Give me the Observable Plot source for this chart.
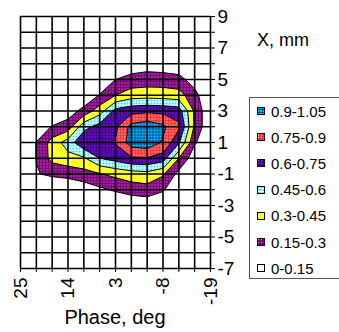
<!DOCTYPE html>
<html><head><meta charset="utf-8">
<script src="https://cdn.jsdelivr.net/npm/d3@7"></script>
<script src="https://cdn.jsdelivr.net/npm/@observablehq/plot@0.6"></script>
<style>
body{margin:0;background:#fff;}
#wrap{position:relative;width:339px;height:332px;overflow:hidden;font-family:'Liberation Sans',Arial,sans-serif;color:#000;}
#xmm{position:absolute;left:257px;top:30px;font-size:18px;white-space:nowrap;}
#xlab{position:absolute;left:0;width:230px;text-align:center;top:306px;font-size:20px;white-space:nowrap;}
#legend{position:absolute;left:249px;top:97px;width:100px;height:182px;border:1px solid #555;box-sizing:border-box;background:#fff;}
.item{position:absolute;left:7px;height:18px;font-size:15px;display:flex;align-items:center;white-space:nowrap;}
.item svg{margin-right:6px;}
</style></head><body>
<svg width="0" height="0" style="position:absolute"><defs>
<pattern id="b1" width="3" height="3" patternUnits="userSpaceOnUse"><rect width="3" height="3" fill="#7e067e"/><rect x="1" y="1" width="1" height="1" fill="#f08ae0"/></pattern>
<pattern id="b2" width="3" height="3" patternUnits="userSpaceOnUse"><rect width="3" height="3" fill="#ffff10"/><rect x="1" y="1" width="1" height="1" fill="#ffffff"/></pattern>
<pattern id="b3" width="3" height="3" patternUnits="userSpaceOnUse"><rect width="3" height="3" fill="#ffffff"/><rect x="0" y="0" width="2" height="2" fill="#30e0f0"/></pattern>
<pattern id="b4" width="3" height="3" patternUnits="userSpaceOnUse"><rect width="3" height="3" fill="#48009a"/><rect x="1" y="1" width="1" height="1" fill="#9050d0"/></pattern>
<pattern id="b5" width="3" height="3" patternUnits="userSpaceOnUse"><rect width="3" height="3" fill="#ff3838"/><rect x="1" y="1" width="1" height="1" fill="#ffffff"/></pattern>
<pattern id="b6" width="3" height="3" patternUnits="userSpaceOnUse"><rect width="3" height="3" fill="#004a9a"/><rect x="0" y="0" width="2" height="2" fill="#00c8ff"/></pattern>
</defs></svg>
<div id="wrap"><div id="xmm">X, mm</div><div id="xlab"></div><div id="legend"></div></div>
<script>
// Categories (phase, deg) and series (X, mm)
const phases = [25, 21.33, 17.67, 14, 10.33, 6.67, 3, -0.67, -4.33, -8, -11.67, -15.33, -19];
const phaseLabels = [25, 14, 3, -8, -19];
const xmm = [9, 8, 7, 6, 5, 4, 3, 2, 1, 0, -1, -2, -3, -4, -5, -6, -7];
const xmmLabels = [9, 7, 5, 3, 1, -1, -3, -5, -7];
const thresholds = [0.15, 0.3, 0.45, 0.6, 0.75, 0.9];
const bandColors = ["url(#b1)", "url(#b2)", "url(#b3)", "url(#b4)", "url(#b5)", "url(#b6)"];
const legendLabels = ["0.9-1.05", "0.75-0.9", "0.6-0.75", "0.45-0.6", "0.3-0.45", "0.15-0.3", "0-0.15"];
const legendFills = ["url(#b6)", "url(#b5)", "url(#b4)", "url(#b3)", "url(#b2)", "url(#b1)", "#ffffff"];
const xTitle = "Phase, deg";

// Surface values, one row per X (mm), columns follow phases
const zX9  = [0,0,0,0,0,0,0,0,0,0,0,0,0];
const zX8  = [0,0,0,0,0,0,0,0,0,0,0,0,0];
const zX7  = [0,0,0,0,0,0,0,0,0,0,0,0,0];
const zX6  = [0,0,0,0,0,0,0,0.06,0.08,0.06,0.04,0,0];
const zX5  = [0,0,0,0,0,0.02,0.15,0.2,0.22,0.22,0.2,0.08,0];
const zX4  = [0,0,0,0,0.02,0.16,0.3,0.38,0.39,0.38,0.36,0.2,0];
const zX3  = [0,0,0,0.075,0.2,0.38,0.65,0.7,0.72,0.71,0.68,0.27,0.02];
const zX2  = [0,0.05,0.16,0.22,0.55,0.66,0.72,0.95,1.0,0.93,0.78,0.27,0.02];
const zX1  = [0,0.155,0.36,0.52,0.72,0.7,0.76,0.97,1.0,0.88,0.62,0.17,0];
const zX0  = [0,0.155,0.35,0.4,0.43,0.6,0.66,0.73,0.74,0.68,0.3,0.05,0];
const zXm1 = [0,0.14,0.18,0.2,0.24,0.29,0.34,0.38,0.4,0.32,0.1,0,0];
const zXm2 = [0,0,0,0.02,0.06,0.12,0.17,0.22,0.24,0.17,0,0,0];
const zXm3 = [0,0,0,0,0,0,0,0.02,0.04,0,0,0,0];
const zXm4 = [0,0,0,0,0,0,0,0,0,0,0,0,0];
const zXm5 = [0,0,0,0,0,0,0,0,0,0,0,0,0];
const zXm6 = [0,0,0,0,0,0,0,0,0,0,0,0,0];
const zXm7 = [0,0,0,0,0,0,0,0,0,0,0,0,0];

const rows = [zX9,zX8,zX7,zX6,zX5,zX4,zX3,zX2,zX1,zX0,zXm1,zXm2,zXm3,zXm4,zXm5,zXm6,zXm7];
const values = rows.flat();
const nx = phases.length, ny = xmm.length;
const dx = (phases[nx-1] - phases[0]) / (nx - 1);
const dy = (xmm[ny-1] - xmm[0]) / (ny - 1);

const chart = Plot.plot({
  width: 339, height: 332,
  marginLeft: 20, marginRight: 129, marginTop: 16, marginBottom: 64,
  style: {fontFamily: "'Liberation Sans', Arial, sans-serif", fontSize: "19px", background: "transparent", color: "#000"},
  x: {domain: [phases[0], phases[nx-1]]},
  y: {domain: [xmm[ny-1], xmm[0]]},
  color: {type: "ordinal", domain: thresholds, range: bandColors},
  marks: [
    Plot.contour(values, {
      width: nx, height: ny,
      x1: phases[0] - dx/2, x2: phases[nx-1] + dx/2,
      y1: xmm[0] - dy/2, y2: xmm[ny-1] + dy/2,
      fill: Plot.identity, thresholds, stroke: "#000", strokeWidth: 1
    }),
    Plot.ruleX(phases, {stroke: "#000", strokeWidth: 1.6}),
    Plot.ruleY(xmm, {stroke: "#000", strokeWidth: 1.6}),
    Plot.axisX(phases, {tickSize: 4, tickPadding: 5, tickRotate: -90, fontSize: 19,
      tickFormat: d => phaseLabels.includes(d) ? String(d) : "", label: null}),
    Plot.axisY(xmm, {anchor: "right", tickSize: 4, tickPadding: 3, fontSize: 19,
      tickFormat: d => xmmLabels.includes(d) ? String(d) : "", label: null})
  ]
});
document.getElementById("wrap").prepend(chart);
document.getElementById("xlab").textContent = xTitle;

const leg = document.getElementById("legend");
legendLabels.forEach((t, k) => {
  const it = document.createElement("div");
  it.className = "item";
  it.style.top = (4 + k * 26.2) + "px";
  it.innerHTML = `<svg width="8" height="8"><rect x="0.5" y="0.5" width="7" height="7" fill="${legendFills[k]}" stroke="#000"/></svg><span>${t}</span>`;
  leg.appendChild(it);
});
</script>
</body></html>
